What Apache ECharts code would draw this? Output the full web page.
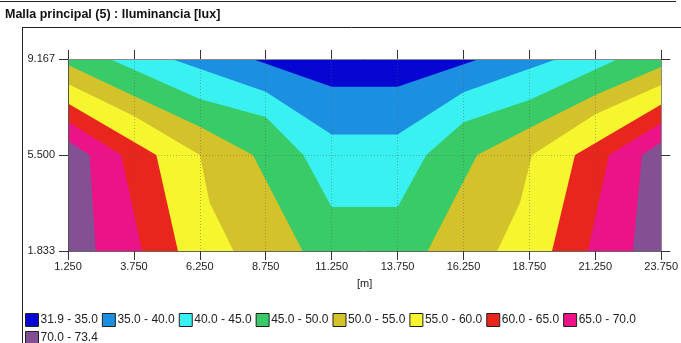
<!DOCTYPE html>
<html>
<head>
<meta charset="utf-8">
<script src="https://cdn.jsdelivr.net/npm/echarts@6/dist/echarts.min.js"></script>
<style>
  html, body { margin: 0; padding: 0; background: #fff; }
  #chart { width: 681px; height: 343px; }
</style>
</head>
<body>
<div id="chart"></div>
<script>
  // grid of the calculation mesh [m]
  const xTicks = [1.25, 3.75, 6.25, 8.75, 11.25, 13.75, 16.25, 18.75, 21.25, 23.75];
  const yTicks = [1.833, 5.5, 9.167];
  const bandNames = ['31.9 - 35.0', '35.0 - 40.0', '40.0 - 45.0', '45.0 - 50.0', '50.0 - 55.0',
    '55.0 - 60.0', '60.0 - 65.0', '65.0 - 70.0', '70.0 - 73.4'];

  // isolines, left to right, [x, y] in metres
  const iso35 = [[8.25, 9.167], [11.25, 8.11], [13.75, 8.11], [16.85, 9.167]];
  const iso40 = [[5.18, 9.167], [8.75, 7.92], [11.25, 6.28], [13.75, 6.28], [16.25, 7.90], [19.8, 9.167]];
  const iso45 = [[2.83, 9.167], [6.25, 7.64], [8.75, 6.95], [10.18, 5.5], [11.25, 3.51], [13.75, 3.51],
    [14.84, 5.5], [16.25, 6.75], [18.75, 7.6], [22.11, 9.167]];
  const iso50 = [[1.25, 8.94], [3.75, 7.75], [6.25, 6.58], [8.26, 5.5], [10.15, 1.833],
    [14.89, 1.833], [16.77, 5.5], [18.75, 6.53], [21.25, 7.79], [23.75, 8.86]];
  const iso55 = [[1.25, 8.21], [3.75, 6.99], [6.25, 5.5], [6.62, 3.69], [7.53, 1.833],
    [17.53, 1.833], [18.4, 3.69], [18.85, 5.5], [21.25, 7.06], [23.75, 8.17]];
  const iso60 = [[1.25, 7.47], [4.6, 5.5], [5.42, 1.833], [19.61, 1.833], [20.48, 5.5], [23.75, 7.43]];
  const iso65 = [[1.25, 6.77], [3.27, 5.5], [4.06, 1.833], [20.97, 1.833], [21.77, 5.5], [23.75, 6.72]];
  const iso70 = [[1.25, 6.03], [2.07, 5.5], [2.3, 1.833], [22.68, 1.833], [23.02, 5.5], [23.75, 5.99]];

  const xMin = xTicks[0], xMax = xTicks[xTicks.length - 1];
  const yMin = yTicks[0], yMax = yTicks[yTicks.length - 1];

  const colors = {
    '31.9 - 35.0': '#0606d2',
    '35.0 - 40.0': '#1d8fe1',
    '40.0 - 45.0': '#3af1f1',
    '45.0 - 50.0': '#38cb68',
    '50.0 - 55.0': '#d4c22b',
    '55.0 - 60.0': '#f6f62e',
    '60.0 - 65.0': '#e8261d',
    '65.0 - 70.0': '#ec1288',
    '70.0 - 73.4': '#845094'
  };

  const font = 'Liberation Sans, Arial, sans-serif';

  // region below a threshold = area between the isoline and the top edge
  function region(name, iso) {
    return {
      name: name,
      type: 'custom',
      coordinateSystem: 'cartesian2d',
      silent: true,
      itemStyle: { color: colors[name] },
      data: [[xMin, yMax]],
      renderItem: function (params, api) {
        var pts = [[xMin, yMax]].concat(iso, [[xMax, yMax]]).map(function (p) { return api.coord(p); });
        return { type: 'polygon', shape: { points: pts }, style: { fill: colors[name] } };
      }
    };
  }

  var series = [
    region('70.0 - 73.4', [[xMin, yMin], [xMax, yMin]]),
    region('65.0 - 70.0', iso70),
    region('60.0 - 65.0', iso65),
    region('55.0 - 60.0', iso60),
    region('50.0 - 55.0', iso55),
    region('45.0 - 50.0', iso50),
    region('40.0 - 45.0', iso45),
    region('35.0 - 40.0', iso40),
    region('31.9 - 35.0', iso35)
  ];

  var chart = echarts.init(document.getElementById('chart'), null, { renderer: 'canvas' });

  var dotted = { show: true, lineStyle: { color: 'rgba(90,90,90,0.45)', width: 1, type: [1, 2] } };

  chart.setOption({
    animation: false,
    textStyle: { fontFamily: font },
    title: {
      text: 'Malla principal (5) : Iluminancia [lux]',
      left: 5, top: 8, padding: 0,
      textStyle: { fontSize: 12.5, fontWeight: 'bold', color: '#111', fontFamily: font }
    },
    graphic: [
      { type: 'line', shape: { x1: 0, y1: 1.5, x2: 676, y2: 1.5 }, style: { stroke: '#222', lineWidth: 1 } },
      { type: 'line', shape: { x1: 22.5, y1: 27, x2: 22.5, y2: 343 }, style: { stroke: '#222', lineWidth: 1 } },
      { type: 'line', shape: { x1: 22, y1: 27.5, x2: 681, y2: 27.5 }, style: { stroke: '#222', lineWidth: 1 } }
    ],
    grid: { left: 68, top: 59, width: 594, height: 192 },
    legend: {
      left: 25, top: 313, width: 630, padding: 0,
      icon: 'rect', itemWidth: 13, itemHeight: 13, itemGap: 4,
      selectedMode: false,
      data: bandNames,
      itemStyle: { borderColor: '#222', borderWidth: 1 },
      textStyle: { fontSize: 12, color: '#222', fontFamily: font, lineHeight: 12, padding: [0, 0, 0, -3] }
    },
    xAxis: [{
      type: 'value', min: xMin, max: xMax, position: 'bottom', z: 5,
      name: '[m]', nameLocation: 'middle', nameGap: 27,
      nameTextStyle: { fontSize: 11, color: '#222', fontFamily: font },
      axisLine: { show: true, lineStyle: { color: '#666' } },
      axisTick: { show: true, length: 9, customValues: xTicks, lineStyle: { color: '#333' } },
      axisLabel: { customValues: xTicks, margin: 10, fontSize: 11, color: '#222', fontFamily: font,
        formatter: function (v) { return v.toFixed(3); } },
      splitLine: dotted
    }, {
      type: 'value', min: xMin, max: xMax, position: 'top', z: 5,
      axisLine: { show: true, lineStyle: { color: '#888' } },
      axisTick: { show: true, length: 9, customValues: xTicks, lineStyle: { color: '#333' } },
      axisLabel: { show: false },
      splitLine: { show: false }
    }],
    yAxis: [{
      type: 'value', min: yMin, max: yMax, position: 'left', z: 5,
      axisLine: { show: true, lineStyle: { color: '#555' } },
      axisTick: { show: true, length: 9, customValues: yTicks, lineStyle: { color: '#333' } },
      axisLabel: { customValues: yTicks, margin: 13, fontSize: 11, color: '#222', fontFamily: font,
        formatter: function (v) { return v.toFixed(3); } },
      splitLine: dotted
    }, {
      type: 'value', min: yMin, max: yMax, position: 'right', z: 5,
      axisLine: { show: true, lineStyle: { color: '#888' } },
      axisTick: { show: true, length: 9, customValues: yTicks, lineStyle: { color: '#333' } },
      axisLabel: { show: false },
      splitLine: { show: false }
    }],
    series: series
  });
</script>
</body>
</html>
